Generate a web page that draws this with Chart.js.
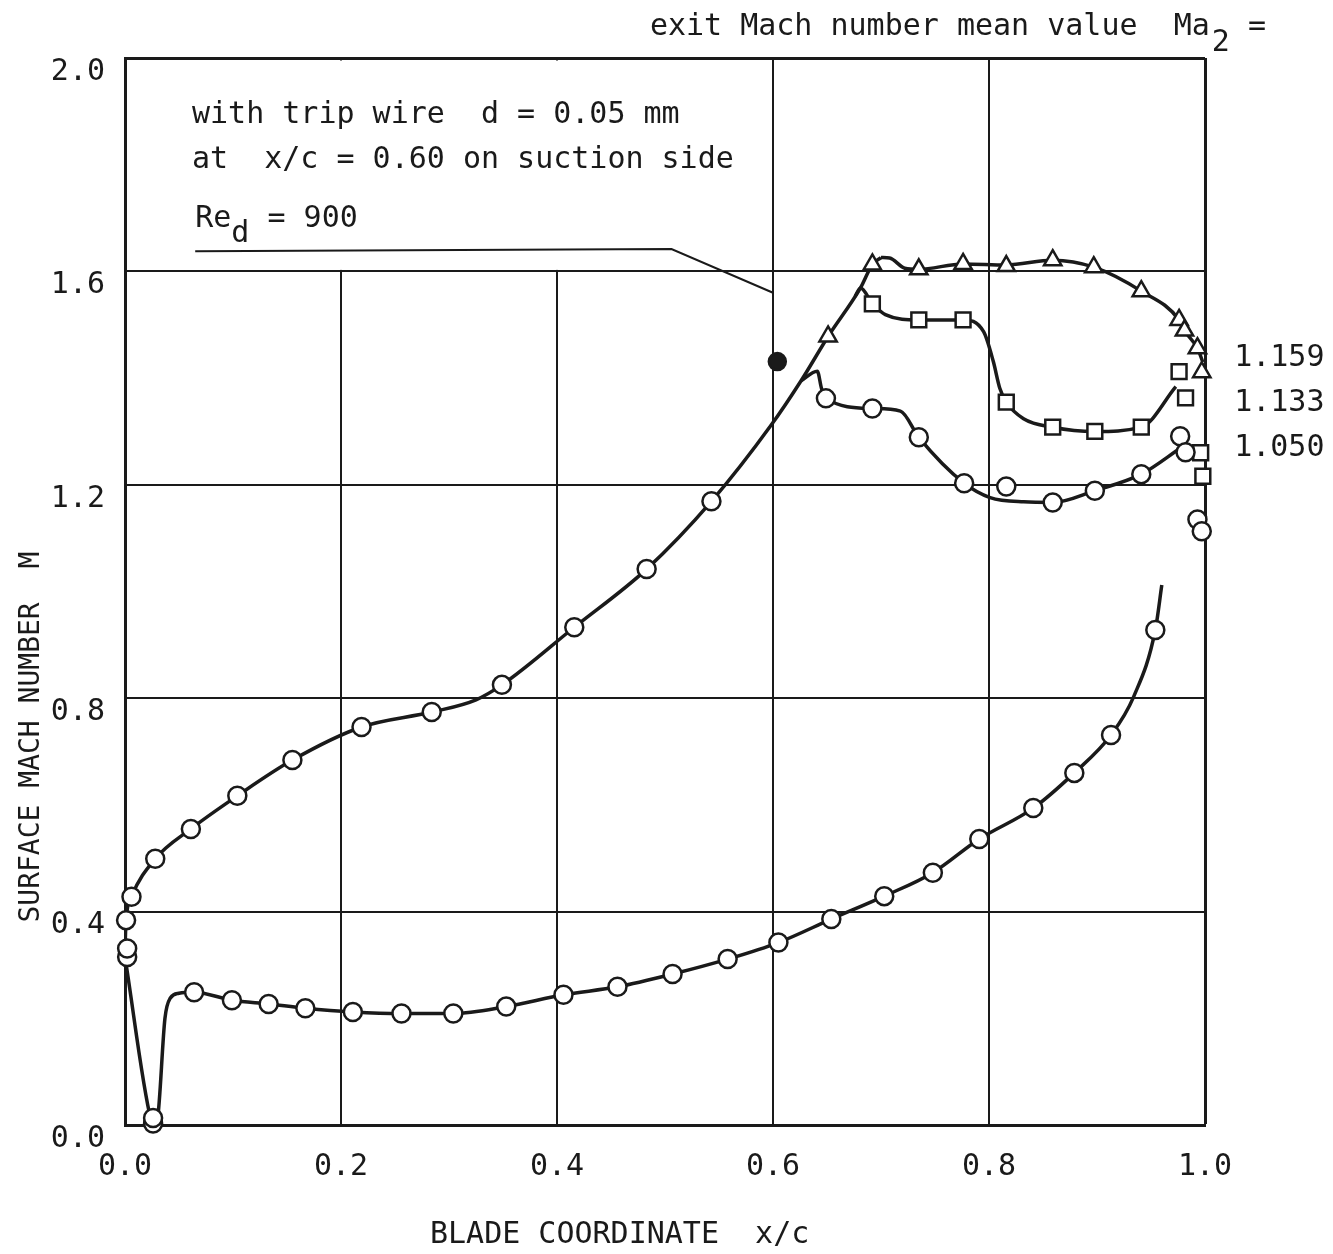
<!DOCTYPE html>
<html>
<head>
<meta charset="utf-8">
<title>Surface Mach number distribution</title>
<script src="https://cdn.jsdelivr.net/npm/chart.js@4.4.0/dist/chart.umd.min.js"></script>
<style>
  body { margin: 0; background: #fff; }
  #chart { display: block; }
</style>
</head>
<body>
<canvas id="chart" width="1333" height="1254"></canvas>
<script>
// pressure side, circles
const pressureX = [0.002, 0.002, 0.026, 0.026, 0.064, 0.099, 0.133, 0.167, 0.211, 0.256, 0.304, 0.353, 0.406, 0.456, 0.507, 0.558, 0.605, 0.654, 0.703, 0.748, 0.791, 0.841, 0.879, 0.913, 0.954];
const pressureM = [0.315, 0.331, 0.003, 0.013, 0.249, 0.234, 0.227, 0.219, 0.212, 0.209, 0.209, 0.222, 0.244, 0.259, 0.283, 0.311, 0.342, 0.386, 0.429, 0.473, 0.536, 0.594, 0.660, 0.731, 0.928];
const pressureCurveX = [0.0, 0.024, 0.027, 0.030, 0.037, 0.042, 0.050, 0.064, 0.099, 0.133, 0.167, 0.211, 0.256, 0.304, 0.353, 0.406, 0.456, 0.507, 0.558, 0.605, 0.654, 0.703, 0.748, 0.791, 0.841, 0.879, 0.913, 0.934, 0.954, 0.960];
const pressureCurveM = [0.315, 0.010, 0.0, 0.010, 0.200, 0.238, 0.247, 0.249, 0.234, 0.227, 0.219, 0.212, 0.209, 0.209, 0.222, 0.244, 0.259, 0.283, 0.311, 0.342, 0.386, 0.429, 0.473, 0.536, 0.594, 0.660, 0.731, 0.803, 0.928, 1.012];

// suction side up to the shock region, circles
const suctionX = [0.001, 0.006, 0.028, 0.061, 0.104, 0.155, 0.219, 0.284, 0.349, 0.416, 0.483, 0.543];
const suctionM = [0.384, 0.428, 0.499, 0.555, 0.617, 0.684, 0.746, 0.774, 0.825, 0.933, 1.042, 1.169];
const suctionCurveX = [0.0, 0.001, 0.006, 0.028, 0.061, 0.104, 0.155, 0.219, 0.284, 0.325, 0.349, 0.416, 0.483, 0.543, 0.598, 0.626, 0.651, 0.681, 0.692, 0.700];
const suctionCurveM = [0.330, 0.384, 0.428, 0.499, 0.555, 0.617, 0.684, 0.746, 0.774, 0.797, 0.825, 0.933, 1.042, 1.169, 1.311, 1.395, 1.478, 1.569, 1.613, 1.626];

// Ma2 = 1.159, triangles
const ma1159X = [0.651, 0.692, 0.735, 0.776, 0.816, 0.859, 0.897, 0.941, 0.976, 0.981, 0.993, 0.997];
const ma1159M = [1.478, 1.613, 1.604, 1.614, 1.610, 1.621, 1.608, 1.563, 1.509, 1.489, 1.456, 1.411];
const ma1159CurveX = [0.700, 0.708, 0.722, 0.735, 0.776, 0.816, 0.859, 0.897, 0.941, 0.976, 0.981, 0.993, 0.998];
const ma1159CurveM = [1.626, 1.625, 1.606, 1.604, 1.614, 1.612, 1.621, 1.608, 1.563, 1.509, 1.489, 1.456, 1.430];

// Ma2 = 1.133, squares
const ma1133X = [0.692, 0.735, 0.776, 0.816, 0.859, 0.898, 0.941, 0.976, 0.982, 0.996, 0.998];
const ma1133M = [1.539, 1.509, 1.509, 1.355, 1.308, 1.300, 1.308, 1.412, 1.363, 1.260, 1.216];
const ma1133CurveX = [0.676, 0.681, 0.692, 0.704, 0.735, 0.776, 0.795, 0.804, 0.810, 0.816, 0.832, 0.859, 0.898, 0.941, 0.973];
const ma1133CurveM = [1.553, 1.569, 1.540, 1.519, 1.509, 1.509, 1.487, 1.431, 1.381, 1.355, 1.324, 1.308, 1.300, 1.308, 1.384];

// Ma2 = 1.050, circles
const ma1050X = [0.649, 0.692, 0.735, 0.777, 0.816, 0.859, 0.898, 0.941, 0.977, 0.982, 0.993, 0.997];
const ma1050M = [1.362, 1.343, 1.289, 1.203, 1.197, 1.167, 1.189, 1.220, 1.291, 1.261, 1.135, 1.113];
const ma1050CurveX = [0.626, 0.641, 0.645, 0.649, 0.692, 0.718, 0.735, 0.777, 0.801, 0.832, 0.859, 0.898, 0.941, 0.978];
const ma1050CurveM = [1.395, 1.413, 1.380, 1.362, 1.343, 1.338, 1.289, 1.203, 1.176, 1.168, 1.167, 1.189, 1.220, 1.270];

// trip wire position and the leader line to the note
const tripWireX = [0.604];
const tripWireM = [1.431];
const leaderX = [0.065, 0.506, 0.600];
const leaderM = [1.638, 1.642, 1.560];

const exitMachLabels = ['1.159', '1.133', '1.050'];
const exitMachM = [1.438, 1.353, 1.269];

const xTicks = [0.0, 0.2, 0.4, 0.6, 0.8, 1.0];
const yTicks = [0.0, 0.4, 0.8, 1.2, 1.6, 2.0];

const INK = '#1a1a1a';
const FONT = '"DejaVu Sans Mono", "Liberation Mono", monospace';

function pts(xs, ys) {
    return xs.map((x, i) => ({ x: x, y: ys[i] }));
}

function curve(xs, ys) {
    return {
        data: pts(xs, ys),
        showLine: true,
        borderColor: INK,
        borderWidth: 3.5,
        pointRadius: 0,
        cubicInterpolationMode: 'monotone',
        order: 2,
    };
}

function markers(xs, ys, style, radius) {
    return {
        data: pts(xs, ys),
        showLine: false,
        pointStyle: style,
        pointRadius: radius,
        pointBackgroundColor: '#fff',
        pointBorderColor: INK,
        pointBorderWidth: 2.5,
        clip: false,
        order: 1,
    };
}

const paperPlugin = {
    id: 'paper',
    beforeDatasetsDraw(chart) {
        const { ctx } = chart;
        const x = chart.scales.x, y = chart.scales.y;
        // no grid inside the note box (upper left)
        const left = x.getPixelForValue(0) + 2;
        const right = x.getPixelForValue(0.6) - 1.5;
        const top = y.getPixelForValue(2.0) + 2.5;
        const bottom = y.getPixelForValue(1.6) - 1.5;
        ctx.save();
        ctx.fillStyle = '#fff';
        ctx.fillRect(left, top, right - left, bottom - top);
        ctx.restore();
    },
    afterDraw(chart) {
        const { ctx, chartArea } = chart;
        const x = chart.scales.x, y = chart.scales.y;
        ctx.save();
        ctx.fillStyle = INK;
        ctx.textBaseline = 'middle';
        ctx.textAlign = 'left';
        ctx.font = '30px ' + FONT;

        // header
        let px = x.getPixelForValue(0.486);
        let py = chartArea.top - 31;
        const head = 'exit Mach number mean value  Ma';
        ctx.fillText(head, px, py);
        px += ctx.measureText(head).width;
        ctx.fillText('2', px + 2, py + 16);
        px += ctx.measureText('2').width + 2;
        ctx.fillText(' =', px, py);

        // note
        const nx = x.getPixelForValue(0.062);
        ctx.fillText('with trip wire  d = 0.05 mm', nx, y.getPixelForValue(1.893));
        ctx.fillText('at  x/c = 0.60 on suction side', nx, y.getPixelForValue(1.809));
        const ry = y.getPixelForValue(1.698);
        let rx = x.getPixelForValue(0.065);
        ctx.fillText('Re', rx, ry);
        rx += ctx.measureText('Re').width;
        ctx.fillText('d', rx, ry + 15);
        rx += ctx.measureText('d').width;
        ctx.fillText(' = 900', rx, ry);

        // exit Mach number labels
        exitMachLabels.forEach((lab, i) => {
            ctx.fillText(lab, x.getPixelForValue(1.027), y.getPixelForValue(exitMachM[i]));
        });

        // axis titles
        ctx.textAlign = 'center';
        ctx.fillText('BLADE COORDINATE  x/c', x.getPixelForValue(0.458), chartArea.bottom + 110);
        ctx.translate(chartArea.left - 93, y.getPixelForValue(0.727));
        ctx.rotate(-Math.PI / 2);
        ctx.font = '28px ' + FONT;
        ctx.fillText('SURFACE MACH NUMBER  M', 0, 0);
        ctx.restore();
    }
};

const datasets = [
    curve(pressureCurveX, pressureCurveM),
    curve(suctionCurveX, suctionCurveM),
    curve(ma1159CurveX, ma1159CurveM),
    curve(ma1133CurveX, ma1133CurveM),
    curve(ma1050CurveX, ma1050CurveM),
    Object.assign(curve(leaderX, leaderM), { borderWidth: 2, cubicInterpolationMode: 'default', tension: 0 }),
    markers(pressureX, pressureM, 'circle', 9),
    markers(suctionX, suctionM, 'circle', 9),
    markers(ma1050X, ma1050M, 'circle', 9),
    markers(ma1133X, ma1133M, 'rect', 10.5),
    markers(ma1159X, ma1159M, 'triangle', 10),
    Object.assign(markers(tripWireX, tripWireM, 'circle', 8.5), { pointBackgroundColor: INK }),
];

new Chart(document.getElementById('chart'), {
    type: 'scatter',
    data: { datasets: datasets },
    options: {
        responsive: false,
        animation: false,
        layout: { padding: { left: 35, right: 128, top: 58, bottom: 49 } },
        plugins: {
            legend: { display: false },
            tooltip: { enabled: false },
        },
        scales: {
            x: {
                type: 'linear',
                min: 0,
                max: 1,
                afterFit: (scale) => { scale.height = 80; },
                afterBuildTicks: (scale) => { scale.ticks = xTicks.map(v => ({ value: v })); },
                border: { display: true, color: INK, width: 3 },
                grid: {
                    color: INK,
                    lineWidth: (c) => (c.tick && (c.tick.value === 1) ? 3 : 2),
                    drawTicks: false,
                },
                ticks: {
                    padding: 24,
                    color: INK,
                    font: { family: FONT, size: 30 },
                    callback: (v) => Number(v).toFixed(1),
                },
            },
            y: {
                type: 'linear',
                min: 0,
                max: 2,
                afterFit: (scale) => { scale.width = 90; },
                afterBuildTicks: (scale) => { scale.ticks = yTicks.map(v => ({ value: v })); },
                border: { display: true, color: INK, width: 3 },
                grid: {
                    color: INK,
                    lineWidth: (c) => (c.tick && (c.tick.value === 2) ? 3 : 2),
                    drawTicks: false,
                },
                ticks: {
                    padding: 20,
                    labelOffset: 14,
                    color: INK,
                    font: { family: FONT, size: 30 },
                    callback: (v) => Number(v).toFixed(1),
                },
            },
        },
    },
    plugins: [paperPlugin],
});
</script>
</body>
</html>
